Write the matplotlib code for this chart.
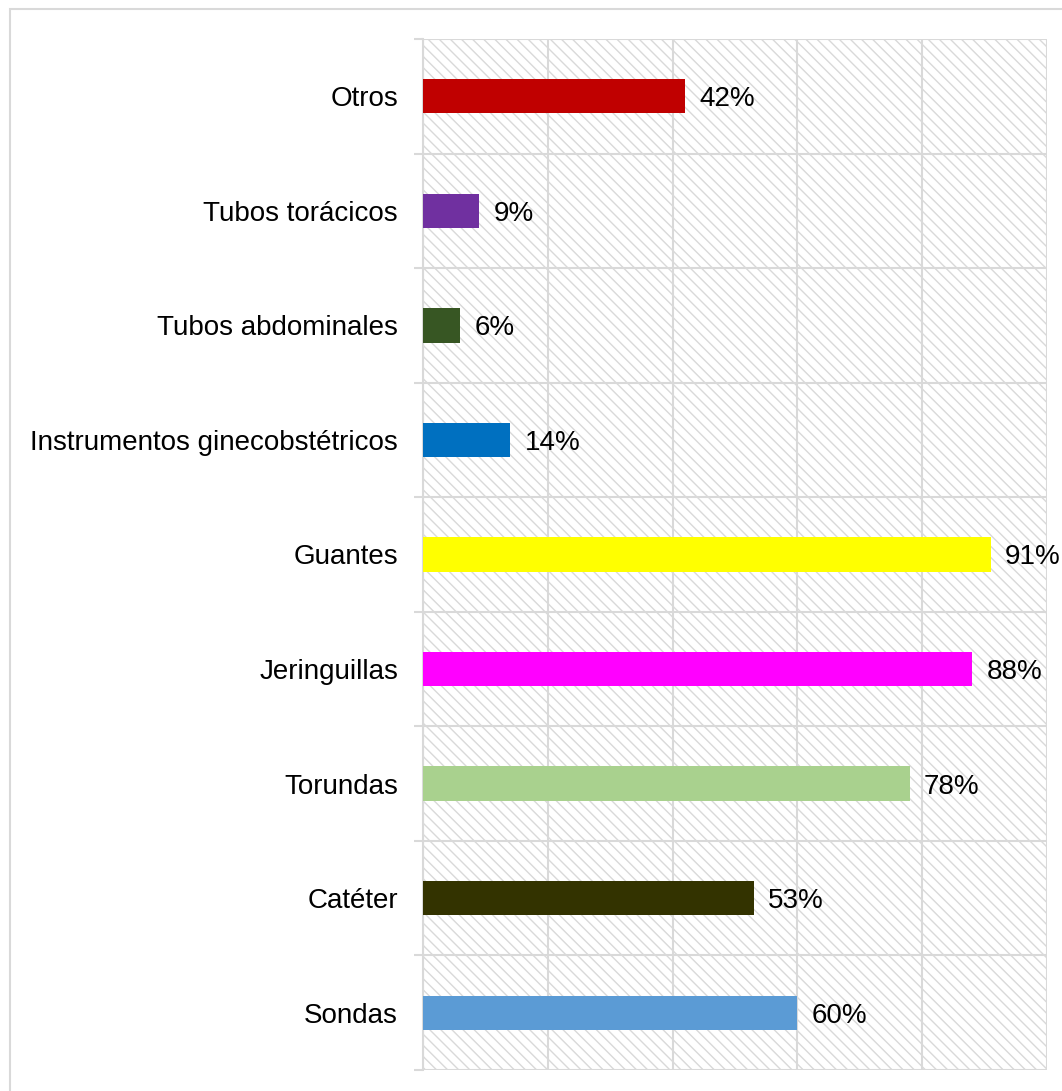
import matplotlib.pyplot as plt
from matplotlib.patches import Rectangle

plt.rcParams['font.family'] = ['Liberation Sans', 'DejaVu Sans']
plt.rcParams['hatch.linewidth'] = 1.0
plt.rcParams['hatch.color'] = '#d9d9d9'

# Data, from bottom to top
categories = ['Sondas', 'Catéter', 'Torundas', 'Jeringuillas', 'Guantes',
              'Instrumentos ginecobstétricos', 'Tubos abdominales',
              'Tubos torácicos', 'Otros']
values = [60, 53, 78, 88, 91, 14, 6, 9, 42]
colors = ['#5B9BD5', '#333300', '#A9D18E', '#FF00FF', '#FFFF00',
          '#0070C0', '#375623', '#7030A0', '#C00000']

fig = plt.figure(figsize=(10.62, 10.91), dpi=100)
ax = fig.add_axes([423 / 1062, 1 - 1070 / 1091, 624 / 1062, 1031 / 1091])

# hatched background of the plot area
ax.add_patch(Rectangle((0, 0), 1, 1, transform=ax.transAxes, facecolor='white',
                       edgecolor='#d9d9d9', hatch='\\\\\\', linewidth=0, zorder=0))

y = list(range(len(categories)))
ax.barh(y, values, height=0.3, color=colors, zorder=3)

for yi, v in zip(y, values):
    ax.text(v + 2.3, yi, f'{v}%', va='center_baseline', ha='left', fontsize=20, zorder=4)

ax.set_xlim(0, 100)
ax.set_ylim(-0.5, len(categories) - 0.5)
ax.set_xticks([0, 20, 40, 60, 80, 100])
ax.set_xticklabels([])
ax.tick_params(axis='x', length=0)
ax.set_yticks(y)
ax.set_yticklabels(categories, fontsize=20)
ax.tick_params(axis='y', which='major', length=0, pad=18)
ax.set_yticks([i - 0.5 for i in range(len(categories) + 1)], minor=True)
ax.tick_params(axis='y', which='minor', length=6.5, width=1.5, color='#d9d9d9')

ax.grid(axis='x', which='major', color='#d9d9d9', linewidth=1.5, zorder=1)
ax.grid(axis='y', which='minor', color='#d9d9d9', linewidth=1.5, zorder=1)
ax.set_axisbelow(True)
for s in ax.spines.values():
    s.set_visible(False)
ax.spines['left'].set_visible(True)
ax.spines['left'].set_color('#d9d9d9')
ax.spines['left'].set_linewidth(1.5)

# outer chart border
fig.add_artist(Rectangle((9.5 / 1062, -0.1), 1.2, 1 - 9.5 / 1091 + 0.1,
                         transform=fig.transFigure, fill=False,
                         edgecolor='#d9d9d9', linewidth=1.5))

fig.savefig('out.png', dpi=100)
